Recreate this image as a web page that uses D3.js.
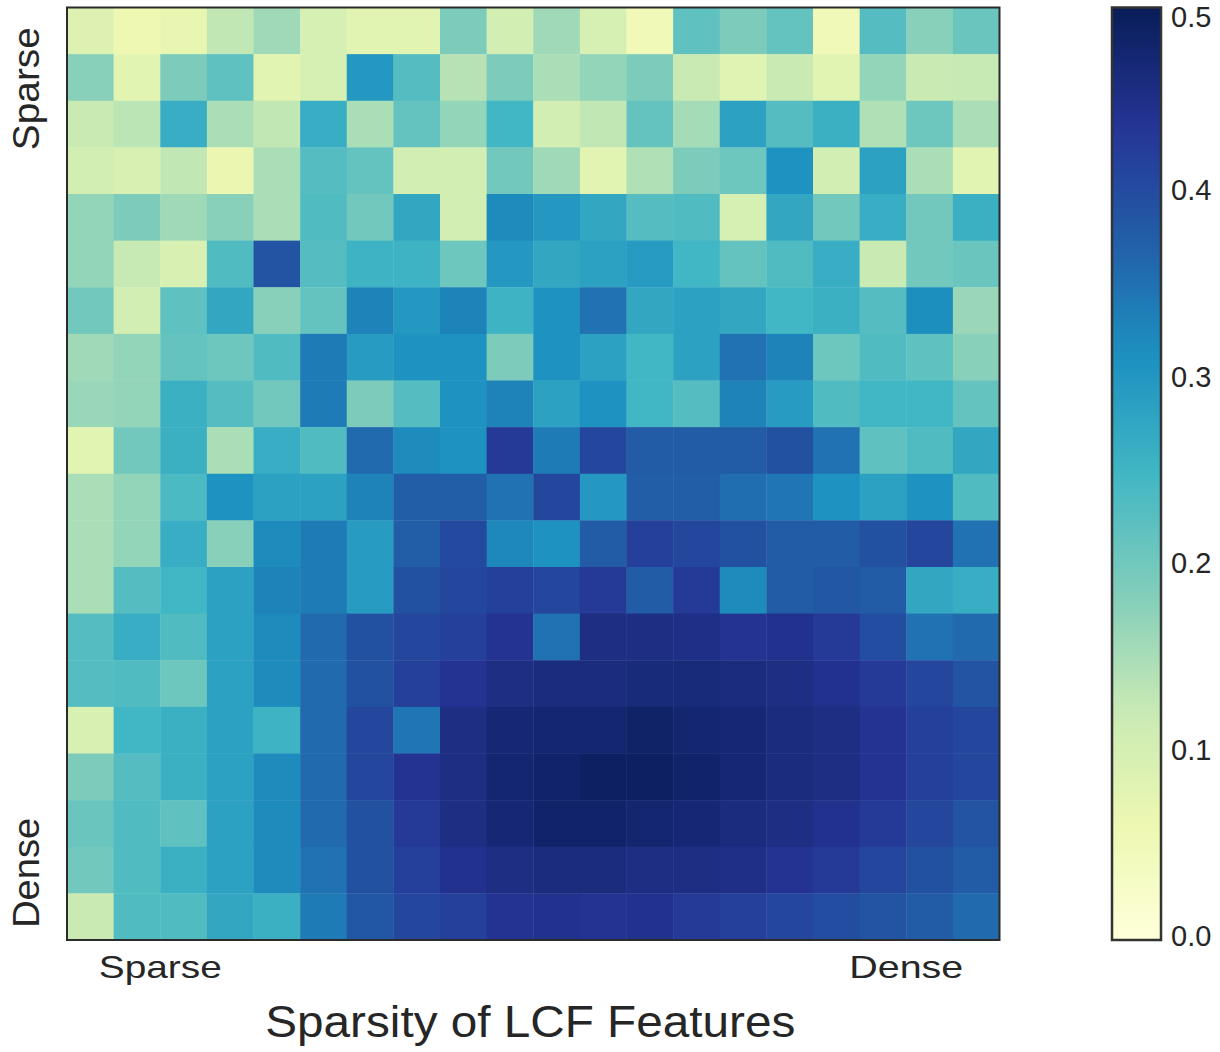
<!DOCTYPE html>
<html>
<head>
<meta charset="utf-8">
<script src="https://cdn.jsdelivr.net/npm/d3@7"></script>
<style>
  html, body { margin: 0; padding: 0; background: #ffffff; }
  svg { display: block; }
  text { font-family: "Liberation Sans", Arial, Helvetica, sans-serif; fill: #262626; }
</style>
</head>
<body>
<svg id="chart" width="1220" height="1052"></svg>
<script>
// ---------------- data ----------------
const xCategories = d3.range(20);
const yCategories = d3.range(20);

const values = [
  [0.09,0.06,0.07,0.13,0.16,0.10,0.08,0.08,0.19,0.105,0.16,0.10,0.05,0.22,0.19,0.215,0.05,0.23,0.18,0.21],
  [0.18,0.08,0.19,0.22,0.08,0.10,0.30,0.23,0.14,0.19,0.15,0.17,0.19,0.12,0.085,0.12,0.08,0.17,0.12,0.125],
  [0.12,0.135,0.265,0.15,0.13,0.265,0.15,0.215,0.17,0.25,0.105,0.13,0.215,0.155,0.285,0.23,0.26,0.145,0.205,0.15],
  [0.105,0.095,0.13,0.065,0.15,0.23,0.215,0.105,0.105,0.20,0.16,0.08,0.145,0.19,0.205,0.31,0.105,0.285,0.15,0.08],
  [0.17,0.19,0.16,0.18,0.15,0.235,0.20,0.275,0.105,0.32,0.30,0.275,0.23,0.235,0.10,0.275,0.20,0.265,0.20,0.26],
  [0.17,0.125,0.095,0.235,0.39,0.23,0.255,0.255,0.205,0.30,0.275,0.285,0.295,0.25,0.215,0.235,0.265,0.12,0.20,0.21],
  [0.20,0.105,0.22,0.275,0.18,0.215,0.33,0.30,0.33,0.255,0.31,0.35,0.275,0.285,0.275,0.25,0.26,0.23,0.315,0.165],
  [0.16,0.17,0.215,0.205,0.235,0.34,0.295,0.31,0.31,0.19,0.31,0.285,0.25,0.285,0.35,0.33,0.205,0.235,0.22,0.18],
  [0.165,0.17,0.26,0.23,0.20,0.34,0.19,0.23,0.31,0.33,0.285,0.31,0.25,0.23,0.33,0.295,0.235,0.25,0.25,0.215],
  [0.08,0.20,0.26,0.15,0.265,0.235,0.36,0.32,0.31,0.43,0.34,0.41,0.38,0.38,0.38,0.395,0.35,0.22,0.235,0.275],
  [0.15,0.17,0.24,0.31,0.285,0.285,0.33,0.375,0.375,0.35,0.41,0.30,0.375,0.375,0.355,0.345,0.31,0.285,0.31,0.235],
  [0.15,0.17,0.265,0.18,0.32,0.34,0.295,0.375,0.405,0.325,0.31,0.38,0.42,0.41,0.395,0.38,0.38,0.395,0.41,0.35],
  [0.15,0.23,0.25,0.285,0.33,0.34,0.295,0.395,0.41,0.42,0.41,0.43,0.38,0.43,0.32,0.38,0.385,0.38,0.275,0.265],
  [0.23,0.265,0.235,0.285,0.32,0.36,0.395,0.41,0.42,0.44,0.35,0.455,0.455,0.45,0.44,0.445,0.43,0.40,0.35,0.36],
  [0.23,0.235,0.205,0.285,0.32,0.36,0.395,0.42,0.44,0.455,0.46,0.46,0.465,0.465,0.46,0.455,0.445,0.43,0.41,0.39],
  [0.095,0.25,0.26,0.285,0.255,0.36,0.41,0.345,0.455,0.47,0.475,0.475,0.485,0.475,0.47,0.46,0.455,0.44,0.42,0.41],
  [0.19,0.23,0.26,0.285,0.32,0.36,0.41,0.44,0.455,0.475,0.48,0.49,0.49,0.48,0.47,0.46,0.455,0.44,0.42,0.41],
  [0.21,0.235,0.22,0.285,0.32,0.36,0.395,0.43,0.455,0.47,0.48,0.48,0.475,0.47,0.46,0.455,0.445,0.43,0.41,0.39],
  [0.20,0.235,0.26,0.285,0.32,0.35,0.395,0.42,0.445,0.455,0.46,0.46,0.455,0.455,0.45,0.44,0.43,0.41,0.395,0.38],
  [0.12,0.235,0.235,0.275,0.26,0.34,0.385,0.41,0.42,0.44,0.445,0.44,0.445,0.43,0.42,0.41,0.40,0.39,0.38,0.36]
];

const xTickLabels = ["Sparse", "Dense"];
const xTickPositions = [2, 18];
const yTickLabels = ["Sparse", "Dense"];
const yTickPositions = [1.74, 18.56];
const xAxisTitle = "Sparsity of LCF Features";
const colorbarTicks = [0.0, 0.1, 0.2, 0.3, 0.4, 0.5];
const colorDomain = [0, 0.5];
// matplotlib YlGnBu anchor colours
const ylgnbu = ["#ffffd9","#edf8b1","#c7e9b4","#7fcdbb","#41b6c4","#1d91c0","#225ea8","#253494","#081d58"];

// ---------------- layout ----------------
const svg = d3.select("#chart");
const plot = { left: 67, right: 999.5, top: 7.5, bottom: 940 };
const cbar = { left: 1112, right: 1161, top: 7.5, bottom: 940 };

const x = d3.scaleBand().domain(xCategories).range([plot.left, plot.right]).padding(0);
const y = d3.scaleBand().domain(yCategories).range([plot.top, plot.bottom]).padding(0);
const xPos = d3.scaleLinear().domain([0, 20]).range([plot.left, plot.right]);
const yPos = d3.scaleLinear().domain([0, 20]).range([plot.top, plot.bottom]);

const color = d3.scaleLinear()
  .domain(d3.range(ylgnbu.length).map(i => colorDomain[0] + i * (colorDomain[1] - colorDomain[0]) / (ylgnbu.length - 1)))
  .range(ylgnbu)
  .interpolate(d3.interpolateRgb)
  .clamp(true);

// ---------------- heatmap cells ----------------
const cells = [];
values.forEach((row, r) => row.forEach((v, c) => cells.push({ r, c, v })));

svg.append("g")
  .selectAll("rect")
  .data(cells)
  .join("rect")
  .attr("x", d => x(d.c))
  .attr("y", d => y(d.r))
  .attr("width", x.bandwidth() + 0.4)
  .attr("height", y.bandwidth() + 0.4)
  .attr("fill", d => color(d.v));

svg.append("rect")
  .attr("x", plot.left).attr("y", plot.top)
  .attr("width", plot.right - plot.left).attr("height", plot.bottom - plot.top)
  .attr("fill", "none").attr("stroke", "#2b2b2b").attr("stroke-width", 2);

// ---------------- tick labels ----------------
const xTickLen = [123, 114];
svg.append("g").selectAll("text")
  .data(xTickLabels)
  .join("text")
  .attr("x", (d, i) => xPos(xTickPositions[i]))
  .attr("y", 978)
  .attr("text-anchor", "middle")
  .attr("font-size", 32)
  .attr("textLength", (d, i) => xTickLen[i])
  .attr("lengthAdjust", "spacingAndGlyphs")
  .text(d => d);

const yTickLen = [123, 110];
svg.append("g").selectAll("text")
  .data(yTickLabels)
  .join("text")
  .attr("transform", (d, i) => `translate(39,${yPos(yTickPositions[i])}) rotate(-90)`)
  .attr("text-anchor", "middle")
  .attr("font-size", 36)
  .attr("textLength", (d, i) => yTickLen[i])
  .attr("lengthAdjust", "spacingAndGlyphs")
  .text(d => d);

svg.append("text")
  .attr("x", (plot.left + plot.right) / 2 - 3)
  .attr("y", 1037)
  .attr("text-anchor", "middle")
  .attr("font-size", 44)
  .attr("textLength", 530)
  .attr("lengthAdjust", "spacingAndGlyphs")
  .text(xAxisTitle);

// ---------------- colorbar ----------------
const cScale = d3.scaleLinear().domain(colorDomain).range([cbar.bottom, cbar.top]);
const defs = svg.append("defs");
const grad = defs.append("linearGradient")
  .attr("id", "cbgrad")
  .attr("x1", 0).attr("y1", 1).attr("x2", 0).attr("y2", 0);
d3.range(0, 1.0001, 0.02).forEach(t => {
  grad.append("stop")
    .attr("offset", t)
    .attr("stop-color", color(colorDomain[0] + t * (colorDomain[1] - colorDomain[0])));
});
svg.append("rect")
  .attr("x", cbar.left).attr("y", cbar.top)
  .attr("width", cbar.right - cbar.left).attr("height", cbar.bottom - cbar.top)
  .attr("fill", "url(#cbgrad)")
  .attr("stroke", "#333333").attr("stroke-width", 2.5);

svg.append("g").selectAll("text")
  .data(colorbarTicks)
  .join("text")
  .attr("x", 1171)
  .attr("y", d => Math.max(cScale(d) - 4, 17))
  .attr("dominant-baseline", "central")
  .attr("font-size", 29)
  .attr("fill", "#3a3a3a")
  .text(d => d.toFixed(1));
</script>
</body>
</html>
